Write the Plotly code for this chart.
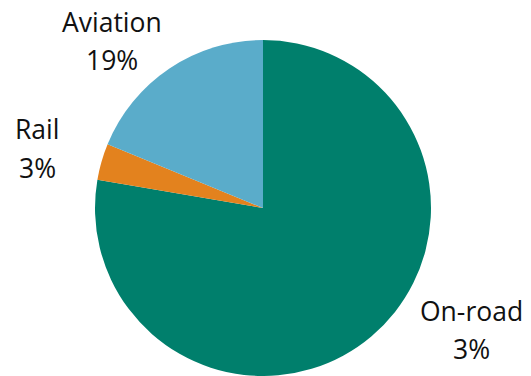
import plotly.graph_objects as go

labels = ["On-road", "Rail", "Aviation"]
values = [77.7, 3.5, 18.8]
pct_labels = ["3%", "3%", "19%"]
colors = ["#007f6c", "#e3821e", "#5aacca"]

W, H = 531, 376
# label anchor positions in pixels (name line center, percent line center)
label_pos = {
    "On-road": (471, 311, 349),
    "Rail": (37, 129, 168),
    "Aviation": (112, 22, 60),
}

fig = go.Figure(go.Pie(
    labels=labels,
    values=values,
    marker=dict(colors=colors, line=dict(width=0)),
    sort=False,
    direction="clockwise",
    rotation=0,
    textinfo="none",
    showlegend=False,
    domain=dict(x=[95 / W, 431 / W], y=[0, 1 - 40 / H]),
))

annotations = []
for name, pct in zip(labels, pct_labels):
    x, y1, y2 = label_pos[name]
    for txt, yy in ((name, y1), (pct, y2)):
        annotations.append(dict(
            text=txt, x=x / W, y=1 - yy / H, xref="paper", yref="paper",
            xanchor="center", yanchor="middle", showarrow=False,
            font=dict(family="Open Sans", size=26.5, color="#111111"),
        ))

fig.update_layout(
    width=W, height=H,
    margin=dict(l=0, r=0, t=0, b=0),
    paper_bgcolor="white",
    plot_bgcolor="white",
    annotations=annotations,
)

fig.write_html("out.html", config={"displayModeBar": False},
               post_script="document.body.style.margin='0';")
